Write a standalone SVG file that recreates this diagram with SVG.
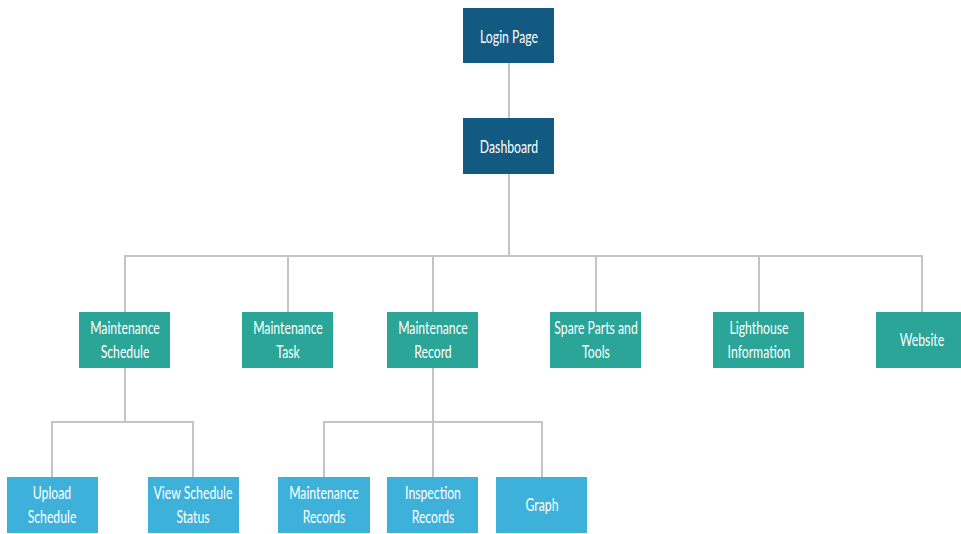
<svg xmlns="http://www.w3.org/2000/svg" width="961" height="534" viewBox="0 0 961 534">
<style>
.l1 rect{fill:#135a82}
.l2 rect{fill:#2ba597}
.l3 rect{fill:#3eb1da}
text{font-family:Lato,"Open Sans","Liberation Sans",sans-serif;font-size:17px;fill:#ffffff;text-anchor:middle}
.c{fill:none;stroke:#c4c4c4;stroke-width:2}
</style>
<rect width="961" height="534" fill="#ffffff"/>
<g id="connectors" class="c">
<path d="M509 63V118"/>
<path d="M509 174V256"/>
<path d="M125 312V256H922V312"/>
<path d="M288 256V312M433 256V312M596 256V312M759 256V312"/>
<path d="M125 368V422"/>
<path d="M52 477V422H193V477"/>
<path d="M433 368V477"/>
<path d="M324 477V422H542V477"/>
</g>
<g id="login" class="l1"><rect x="463" y="8" width="91" height="55"/><text transform="translate(509,43) scale(0.72,1)">Login Page</text></g>
<g id="dashboard" class="l1"><rect x="463" y="118" width="91" height="56"/><text transform="translate(509,153) scale(0.72,1)">Dashboard</text></g>
<g id="maint-schedule" class="l2"><rect x="79" y="312" width="91" height="56"/><text transform="translate(125,334) scale(0.72,1)">Maintenance</text><text transform="translate(125,358) scale(0.72,1)">Schedule</text></g>
<g id="maint-task" class="l2"><rect x="242" y="312" width="91" height="56"/><text transform="translate(288,334) scale(0.72,1)">Maintenance</text><text transform="translate(288,358) scale(0.72,1)">Task</text></g>
<g id="maint-record" class="l2"><rect x="387" y="312" width="91" height="56"/><text transform="translate(433,334) scale(0.72,1)">Maintenance</text><text transform="translate(433,358) scale(0.72,1)">Record</text></g>
<g id="spare-parts" class="l2"><rect x="550" y="312" width="91" height="56"/><text transform="translate(596,334) scale(0.72,1)">Spare Parts and</text><text transform="translate(596,358) scale(0.72,1)">Tools</text></g>
<g id="lighthouse" class="l2"><rect x="713" y="312" width="91" height="56"/><text transform="translate(759,334) scale(0.72,1)">Lighthouse</text><text transform="translate(759,358) scale(0.72,1)">Information</text></g>
<g id="website" class="l2"><rect x="876" y="312" width="91" height="56"/><text transform="translate(922,346) scale(0.72,1)">Website</text></g>
<g id="upload-schedule" class="l3"><rect x="7" y="477" width="91" height="56"/><text transform="translate(52,499) scale(0.72,1)">Upload</text><text transform="translate(52,523) scale(0.72,1)">Schedule</text></g>
<g id="view-schedule" class="l3"><rect x="148" y="477" width="91" height="56"/><text transform="translate(193,499) scale(0.72,1)">View Schedule</text><text transform="translate(193,523) scale(0.72,1)">Status</text></g>
<g id="maint-records" class="l3"><rect x="278" y="477" width="92" height="56"/><text transform="translate(324,499) scale(0.72,1)">Maintenance</text><text transform="translate(324,523) scale(0.72,1)">Records</text></g>
<g id="inspection" class="l3"><rect x="387" y="477" width="91" height="56"/><text transform="translate(433,499) scale(0.72,1)">Inspection</text><text transform="translate(433,523) scale(0.72,1)">Records</text></g>
<g id="graph" class="l3"><rect x="496" y="477" width="91" height="56"/><text transform="translate(542,511) scale(0.72,1)">Graph</text></g>
</svg>
